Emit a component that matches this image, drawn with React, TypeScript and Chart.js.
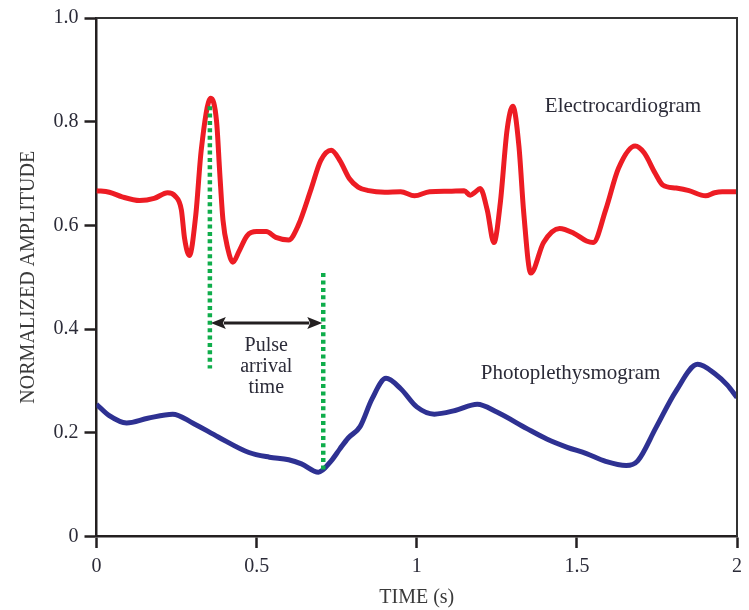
import { useEffect, useRef } from "react";
import { Chart, registerables } from "chart.js";

Chart.register(...registerables);

// ---- data ----
const ecgTime = [
  0.0, 0.04, 0.08, 0.135, 0.18, 0.222, 0.245, 0.265, 0.275, 0.29, 0.31, 0.327, 0.357,
  0.375, 0.385, 0.395, 0.41, 0.426, 0.445, 0.47, 0.5, 0.53, 0.56, 0.6, 0.63, 0.67,
  0.7, 0.733, 0.76, 0.79, 0.817, 0.85, 0.9, 0.95, 0.993, 1.04, 1.1, 1.148, 1.167,
  1.182, 1.198, 1.22, 1.241, 1.261, 1.282, 1.3, 1.319, 1.334, 1.356, 1.396, 1.446,
  1.49, 1.53, 1.551, 1.59, 1.63, 1.682, 1.71, 1.745, 1.768, 1.81, 1.85, 1.902, 1.93,
  1.954, 2.0,
];
const ecgValue = [
  0.667, 0.664, 0.655, 0.648, 0.652, 0.663, 0.657, 0.63, 0.575, 0.542, 0.62, 0.745, 0.845,
  0.8, 0.7, 0.61, 0.555, 0.529, 0.55, 0.58, 0.588, 0.588, 0.577, 0.572, 0.6, 0.67,
  0.725, 0.745, 0.725, 0.69, 0.674, 0.667, 0.664, 0.665, 0.657, 0.665, 0.666, 0.667, 0.658,
  0.664, 0.671, 0.63, 0.567, 0.644, 0.784, 0.83, 0.753, 0.625, 0.508, 0.567, 0.594,
  0.585, 0.57, 0.567, 0.63, 0.71, 0.753, 0.74, 0.7, 0.678, 0.672, 0.667, 0.657, 0.663,
  0.665, 0.665,
];

const ppgTime = [
  0.0, 0.04, 0.094, 0.16, 0.238, 0.3, 0.38, 0.476, 0.54, 0.6, 0.64, 0.693, 0.733, 0.76,
  0.786, 0.823, 0.86, 0.904, 0.95, 1.0, 1.055, 1.12, 1.189, 1.25, 1.344, 1.406, 1.47,
  1.53, 1.59, 1.654, 1.69, 1.747, 1.809, 1.877, 1.933, 1.97, 2.0,
];
const ppgValue = [
  0.255, 0.233, 0.219, 0.228, 0.236, 0.219, 0.192, 0.162, 0.153, 0.148, 0.14, 0.124, 0.146, 0.169,
  0.19, 0.212, 0.265, 0.305, 0.285, 0.25, 0.236, 0.243, 0.255, 0.24, 0.208, 0.188, 0.172,
  0.16, 0.145, 0.137, 0.146, 0.21, 0.28, 0.332, 0.313, 0.292, 0.268,
];

const xTickValues = [0, 0.5, 1, 1.5, 2];
const xTickLabels = ["0", "0.5", "1", "1.5", "2"];
const yTickValues = [0, 0.2, 0.4, 0.6, 0.8, 1.0];
const yTickLabels = ["0", "0.2", "0.4", "0.6", "0.8", "1.0"];

// pulse arrival markers (green dotted)
const markerX = [0.354, 0.708];
const markerTop = [0.83, 0.508];
const markerBottom = [0.324, 0.127];

// double arrow
const arrowX = [0.357, 0.705];
const arrowY = 0.412;

// text labels
const seriesLabels = ["Electrocardiogram", "Photoplethysmogram"];
const seriesLabelX = [1.4, 1.2];
const seriesLabelY = [0.83, 0.315];
const patLines = ["Pulse", "arrival", "time"];
const patX = 0.53;
const patY = [0.367, 0.327, 0.287];

const FONT = "'Liberation Serif', 'Times New Roman', serif";
const TEXT = "#2b2b38";
const AXIS = "#231f20";

export default function App() {
  const ref = useRef<HTMLCanvasElement | null>(null);

  useEffect(() => {
    if (!ref.current) return;

    const annot = {
      id: "annot",
      afterDatasetsDraw(chart: any) {
        const { ctx, chartArea, scales } = chart;
        const xs = scales.x;
        const ys = scales.y;
        ctx.save();
        // frame top & right
        ctx.strokeStyle = "#333";
        ctx.lineWidth = 2;
        ctx.beginPath();
        ctx.moveTo(chartArea.left, chartArea.top);
        ctx.lineTo(chartArea.right, chartArea.top);
        ctx.lineTo(chartArea.right, chartArea.bottom);
        ctx.stroke();

        // arrow
        const ax0 = xs.getPixelForValue(arrowX[0]);
        const ax1 = xs.getPixelForValue(arrowX[1]);
        const ay = ys.getPixelForValue(arrowY);
        const hl = 15;
        const hh = 6;
        ctx.strokeStyle = AXIS;
        ctx.fillStyle = AXIS;
        ctx.lineWidth = 3;
        ctx.beginPath();
        ctx.moveTo(ax0 + hl - 2, ay);
        ctx.lineTo(ax1 - hl + 2, ay);
        ctx.stroke();
        ctx.beginPath();
        ctx.moveTo(ax0, ay);
        ctx.lineTo(ax0 + hl, ay - hh);
        ctx.lineTo(ax0 + hl - 3, ay);
        ctx.lineTo(ax0 + hl, ay + hh);
        ctx.closePath();
        ctx.fill();
        ctx.beginPath();
        ctx.moveTo(ax1, ay);
        ctx.lineTo(ax1 - hl, ay - hh);
        ctx.lineTo(ax1 - hl + 3, ay);
        ctx.lineTo(ax1 - hl, ay + hh);
        ctx.closePath();
        ctx.fill();

        // texts
        ctx.fillStyle = TEXT;
        ctx.font = `21px ${FONT}`;
        ctx.textBaseline = "middle";
        ctx.textAlign = "left";
        seriesLabels.forEach((t, i) => {
          ctx.fillText(t, xs.getPixelForValue(seriesLabelX[i]), ys.getPixelForValue(seriesLabelY[i]));
        });
        ctx.font = `20px ${FONT}`;
        ctx.textAlign = "center";
        patLines.forEach((t, i) => {
          ctx.fillText(t, xs.getPixelForValue(patX), ys.getPixelForValue(patY[i]));
        });
        ctx.restore();
      },
    };

    const markerSets = markerX.map((x, i) => ({
      label: "marker" + i,
      data: [
        { x, y: markerTop[i] },
        { x, y: markerBottom[i] },
      ],
      borderColor: "#0fad4b",
      borderWidth: 4.5,
      borderDash: [4, 3.4],
      pointRadius: 0,
      order: 0,
    }));

    const chart = new Chart(ref.current, {
      type: "line",
      data: {
        datasets: [
          ...markerSets,
          {
            label: "Electrocardiogram",
            data: ecgTime.map((t, i) => ({ x: t, y: ecgValue[i] })),
            borderColor: "#ed1c24",
            borderWidth: 5,
            pointRadius: 0,
            cubicInterpolationMode: "monotone",
            order: 1,
          },
          {
            label: "Photoplethysmogram",
            data: ppgTime.map((t, i) => ({ x: t, y: ppgValue[i] })),
            borderColor: "#2e3192",
            borderWidth: 5,
            pointRadius: 0,
            cubicInterpolationMode: "monotone",
            order: 1,
          },
        ],
      },
      options: {
        responsive: false,
        animation: false,
        devicePixelRatio: 1,
        layout: { padding: { top: 14, right: 7.3, left: 0, bottom: 0 } },
        plugins: { legend: { display: false }, tooltip: { enabled: false } },
        scales: {
          x: {
            type: "linear",
            min: 0,
            max: 2,
            afterFit: (s: any) => {
              s.height = 73.5;
            },
            afterBuildTicks: (s: any) => {
              s.ticks = xTickValues.map((v) => ({ value: v }));
            },
            ticks: {
              callback: (_v: any, i: number) => xTickLabels[i],
              color: TEXT,
              font: { family: FONT, size: 20 },
              padding: 7,
              maxRotation: 0,
            },
            grid: {
              drawOnChartArea: false,
              drawTicks: true,
              tickLength: 11.5,
              tickWidth: 2.5,
              tickColor: AXIS,
            },
            border: { display: true, color: AXIS, width: 2.5 },
            title: {
              display: true,
              text: "TIME (s)",
              color: "#3a3a3a",
              font: { family: FONT, size: 20 },
              padding: { top: 0, bottom: 0 },
            },
          },
          y: {
            type: "linear",
            min: 0,
            max: 1,
            afterFit: (s: any) => {
              s.width = 96.5;
            },
            afterBuildTicks: (s: any) => {
              s.ticks = yTickValues.map((v) => ({ value: v }));
            },
            ticks: {
              callback: (_v: any, i: number) => yTickLabels[i],
              color: TEXT,
              font: { family: FONT, size: 20 },
              padding: 6,
            },
            grid: {
              drawOnChartArea: false,
              drawTicks: true,
              tickLength: 12,
              tickWidth: 2.5,
              tickColor: AXIS,
            },
            border: { display: true, color: AXIS, width: 2.5 },
            title: {
              display: true,
              text: "NORMALIZED AMPLITUDE",
              color: "#3a3a3a",
              font: { family: FONT, size: 20 },
              padding: { top: 16.5, bottom: 0 },
            },
          },
        },
      },
      plugins: [annot],
    } as any);

    return () => chart.destroy();
  }, []);

  return (
    <div style={{ position: "fixed", left: 0, top: 0, width: 749, height: 610, background: "#fff" }}>
      <canvas ref={ref} width={749} height={610} style={{ display: "block" }} />
    </div>
  );
}
